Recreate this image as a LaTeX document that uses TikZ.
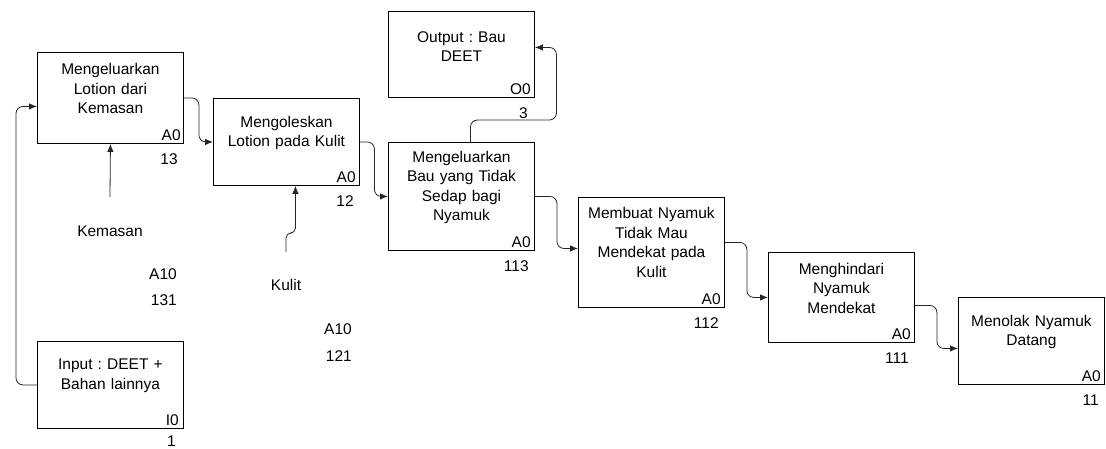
\documentclass[tikz,border=0pt]{standalone}
\usepackage{fontspec}
\setmainfont{Liberation Sans}
\usetikzlibrary{arrows.meta,calc}
\frenchspacing
\begin{document}
\begin{tikzpicture}[x=1pt,y=-1pt,
  box/.style={draw=black,line width=0.9pt,minimum width=146pt,anchor=north west,inner sep=0pt},
  txt/.style={font=\fontsize{15.5}{19.5}\selectfont,align=center,text width=144pt,inner sep=0pt},
  free/.style={font=\fontsize{15.5}{19.5}\selectfont,inner sep=0pt},
  corner/.style={font=\fontsize{15.5}{19.5}\selectfont,anchor=base east,inner sep=0pt},
  conn/.style={draw=black!85,line width=0.8pt,rounded corners=7pt,-{Latex[length=8pt,width=6.5pt]}}]
\useasboundingbox (0,0) rectangle (1106,448);

% boxes
\node[box,minimum height=91pt]  (b1)  at (37,52)   {};
\node[box,minimum height=87pt]  (b2)  at (213,98)  {};
\node[box,minimum height=108pt] (b3)  at (388,142) {};
\node[box,minimum height=86pt]  (out) at (388,11)  {};
\node[box,minimum height=110pt] (b4)  at (578,197) {};
\node[box,minimum height=90pt]  (b5)  at (768,252) {};
\node[box,minimum height=87pt]  (b6)  at (958,297) {};
\node[box,minimum height=87pt]  (inp) at (37,341)  {};

% box texts
\node[txt] (b1t)  at ([yshift=9pt]b1.center)  {Mengeluarkan\\Lotion dari\\Kemasan};
\node[txt] (b2t)  at ([yshift=9pt]b2.center)  {Mengoleskan\\Lotion pada Kulit};
\node[txt] (b3t)  at ([yshift=9pt]b3.center)  {Mengeluarkan\\Bau yang Tidak\\Sedap bagi\\Nyamuk};
\node[txt] (outt) at ([yshift=8pt]out.center) {Output : Bau\\DEET};
\node[txt] (b4t)  at ([yshift=10pt]b4.center) {Membuat Nyamuk\\Tidak Mau\\Mendekat pada\\Kulit};
\node[txt] (b5t)  at ([yshift=9pt]b5.center)  {Menghindari\\Nyamuk\\Mendekat};
\node[txt] (b6t)  at ([yshift=9pt]b6.center)  {Menolak Nyamuk\\Datang};
\node[txt] (inpt) at ([yshift=9pt]inp.center) {Input : DEET +\\Bahan lainnya};

% corner codes
\node[corner] (b1c)  at ([xshift=-3pt,yshift=3pt]b1.south east)  {A0};
\node[corner] (b2c)  at ([xshift=-4pt,yshift=3pt]b2.south east)  {A0};
\node[corner] (b3c)  at ([xshift=-4pt,yshift=3pt]b3.south east)  {A0};
\node[corner] (outc) at ([xshift=-4pt,yshift=3pt]out.south east) {O0};
\node[corner] (b4c)  at ([xshift=-4pt,yshift=3pt]b4.south east)  {A0};
\node[corner] (b5c)  at ([xshift=-4pt,yshift=3pt]b5.south east)  {A0};
\node[corner] (b6c)  at ([xshift=-4pt,yshift=3pt]b6.south east)  {A0};
\node[corner] (inpc) at ([xshift=-5pt,yshift=3pt]inp.south east) {I0};

% numbers
\node[corner] (b1n)  at ([xshift=-6pt,yshift=-21pt]b1.south east)  {13};
\node[corner] (b2n)  at ([xshift=-6pt,yshift=-21pt]b2.south east)  {12};
\node[corner] (b3n)  at ([xshift=-6pt,yshift=-21pt]b3.south east)  {113};
\node[corner] (outn) at ([xshift=-7pt,yshift=-20.5pt]out.south east) {3};
\node[corner] (b4n)  at ([xshift=-6pt,yshift=-21pt]b4.south east)  {112};
\node[corner] (b5n)  at ([xshift=-6pt,yshift=-21pt]b5.south east)  {111};
\node[corner] (b6n)  at ([xshift=-6pt,yshift=-21pt]b6.south east)  {11};
\node[corner] (inpn) at ([xshift=-8pt,yshift=-17.5pt]inp.south east) {1};

% free labels (mechanisms)
\node[free] (kem)  at (110,231) {Kemasan};
\node[free,anchor=east] (kema) at (177,274) {A10};
\node[free,anchor=east] (kemn) at (177,300) {131};
\node[free] (kul)  at (286,285) {Kulit};
\node[free,anchor=east] (kula) at (352,329) {A10};
\node[free,anchor=east] (kuln) at (352,356) {121};

\coordinate (kemsrc) at (110,197);
\coordinate (kulsrc) at (286,252);

% connectors
\draw[conn] (inp.west) -- ++(-21,0) |- ([yshift=-8.5pt]b1.west);
\draw[conn] (b1.east) -- ++(15,0) |- (b2.west);
\draw[conn] (b2.east) -- ++(14.5,0) |- (b3.west);
\draw[conn] (b3.east) -- ++(22,0) |- ([yshift=4pt]b4.west);
\draw[conn] ([yshift=10pt]b4.east) -- ++(22,0) |- (b5.west);
\draw[conn] ([yshift=-8pt]b5.east) -- ++(22,0) |- ([yshift=-7.5pt]b6.west);
\draw[conn] ([xshift=9pt]b3.north) -- ++(0,-22) -- ++(86,0) |- ([yshift=7pt]out.east);
\draw[conn] (kemsrc) -- (b1.south);
\draw[conn,rounded corners=5pt] (kulsrc) -- ++(0,-19) -| ([xshift=9pt]b2.south);
\end{tikzpicture}
\end{document}
